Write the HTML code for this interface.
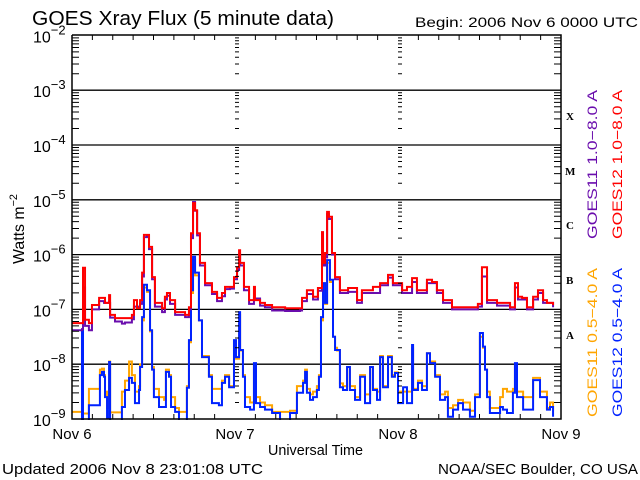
<!DOCTYPE html>
<html><head><meta charset="utf-8"><style>
html,body{margin:0;padding:0;background:#fff;}
svg{display:block;font-family:"Liberation Sans",sans-serif;}
</style></head><body>
<svg id="chart" width="640" height="480" viewBox="0 0 640 480" xmlns="http://www.w3.org/2000/svg">
<rect width="640" height="480" fill="#fff"/>
<text x="32" y="25" font-size="20" textLength="302" lengthAdjust="spacingAndGlyphs">GOES Xray Flux (5 minute data)</text>
<text x="415" y="27" font-size="14" textLength="223" lengthAdjust="spacingAndGlyphs">Begin:  2006 Nov 6 0000 UTC</text>
<g id="yticks"></g>
<g id="grid"></g>
<g id="series" clip-path="url(#clip)"></g>
<defs><clipPath id="clip"><rect x="72" y="35" width="489" height="385"/></clipPath></defs>
<g id="frame"></g>
<g font-family="Liberation Serif, serif" font-weight="bold" font-size="11">
<text x="566" y="120">X</text>
<text x="565" y="175">M</text>
<text x="566" y="229">C</text>
<text x="566" y="284">B</text>
<text x="566" y="339">A</text>
</g>
<text transform="translate(597,239) rotate(-90)" font-size="14" fill="#6a0dad" textLength="149" lengthAdjust="spacingAndGlyphs">GOES11 1.0−8.0 A</text>
<text transform="translate(622,239) rotate(-90)" font-size="14" fill="#ff0000" textLength="149" lengthAdjust="spacingAndGlyphs">GOES12 1.0−8.0 A</text>
<text transform="translate(597,417) rotate(-90)" font-size="14" fill="#ffa500" textLength="149" lengthAdjust="spacingAndGlyphs">GOES11 0.5−4.0 A</text>
<text transform="translate(622,417) rotate(-90)" font-size="14" fill="#0022ff" textLength="149" lengthAdjust="spacingAndGlyphs">GOES12 0.5−4.0 A</text>
<text transform="translate(24,264) rotate(-90)" font-size="16" textLength="70" lengthAdjust="spacingAndGlyphs">Watts m<tspan dy="-7" font-size="11">−2</tspan></text>
<g id="xlabels" font-size="15"></g>
<text x="268" y="455" font-size="15" textLength="95" lengthAdjust="spacingAndGlyphs">Universal Time</text>
<text x="2" y="474" font-size="15" textLength="261" lengthAdjust="spacingAndGlyphs">Updated 2006 Nov  8 23:01:08 UTC</text>
<text x="438" y="474" font-size="15" textLength="200" lengthAdjust="spacingAndGlyphs">NOAA/SEC Boulder, CO USA</text>
</svg>
<script>
// Time arrays are in units of 3-hour intervals since 2006 Nov 6 00:00 UTC (24 units = 3 days)
const yDecades = [-2,-3,-4,-5,-6,-7,-8,-9];
const yTickLabels = ["−2","−3","−4","−5","−6","−7","−8","−9"];
const xDayLabels = ["Nov 6","Nov 7","Nov 8","Nov 9"];
const xDayUnits = [0,8,16,24];

const g12LongT = [0,0.34,0.49,0.54,0.64,0.83,0.98,1.33,1.57,1.62,1.82,1.87,2.11,2.45,2.60,2.94,3.04,3.19,3.34,3.44,3.53,3.68,3.78,3.93,4.07,4.42,4.56,4.66,4.81,5.06,5.55,5.74,5.84,5.94,6.04,6.14,6.28,6.53,6.87,7.12,7.36,7.51,7.75,7.95,8.10,8.20,8.25,8.44,8.69,8.93,8.98,9.23,9.47,9.82,10.46,11.19,11.29,11.53,11.83,12.07,12.27,12.32,12.42,12.52,12.61,12.76,12.91,13.15,13.55,13.99,14.23,14.63,14.77,15.12,15.51,15.75,16.20,16.44,16.69,16.93,17.42,17.67,17.91,18.21,18.65,19.53,19.92,20.12,20.37,20.86,21.50,21.74,21.89,22.09,22.33,22.63,22.87,23.12,23.31,23.61];
const g12LongLog = [-7.25,-7.25,-7.25,-6.24,-7.19,-7.25,-6.92,-6.79,-6.79,-6.88,-6.74,-7.10,-7.16,-7.16,-7.16,-7.10,-6.83,-6.98,-6.83,-6.33,-5.64,-5.64,-5.86,-6.41,-6.88,-6.98,-6.77,-6.70,-6.83,-7.05,-7.10,-6.96,-5.61,-5.06,-5.19,-5.61,-6.15,-6.52,-6.68,-6.79,-6.70,-6.59,-6.59,-6.41,-6.23,-5.92,-6.15,-6.59,-6.83,-6.59,-6.83,-6.88,-6.92,-6.96,-6.98,-6.98,-6.79,-6.65,-6.77,-6.61,-5.59,-6.15,-5.97,-5.22,-5.31,-5.97,-6.41,-6.65,-6.61,-6.83,-6.65,-6.65,-6.59,-6.52,-6.37,-6.52,-6.65,-6.59,-6.43,-6.65,-6.46,-6.50,-6.65,-6.83,-6.96,-6.96,-6.90,-6.23,-6.83,-6.88,-6.96,-6.52,-6.77,-6.79,-6.96,-6.77,-6.65,-6.83,-6.88,-6.92];

const g11LongT = [0,0.49,0.54,0.64,0.83,0.98,1.33,1.57,1.87,2.11,2.45,2.60,2.94,3.04,3.34,3.44,3.53,3.68,3.78,3.93,4.07,4.42,4.56,4.66,4.81,5.06,5.55,5.74,5.84,5.94,6.04,6.14,6.28,6.53,6.87,7.12,7.36,7.51,7.75,7.95,8.10,8.20,8.25,8.44,8.69,8.93,9.23,9.47,9.82,10.46,11.19,11.29,11.53,11.83,12.07,12.27,12.32,12.42,12.52,12.61,12.76,12.91,13.15,13.55,13.99,14.23,14.63,15.12,15.51,15.75,16.20,16.69,16.93,17.42,17.91,18.21,18.65,19.53,19.92,20.12,20.37,20.86,21.50,21.74,21.89,22.33,22.63,22.87,23.12,23.61];
const g11LongLog = [-7.38,-7.36,-6.6,-7.3,-7.38,-7.0,-6.85,-6.88,-7.15,-7.22,-7.26,-7.24,-7.18,-6.95,-6.90,-6.4,-5.68,-5.66,-5.9,-6.45,-6.95,-7.05,-6.82,-6.75,-6.9,-7.1,-7.14,-7.0,-5.7,-5.04,-5.2,-5.65,-6.2,-6.56,-6.72,-6.85,-6.76,-6.63,-6.62,-6.45,-6.28,-6.0,-6.2,-6.65,-6.9,-6.8,-6.93,-6.96,-7.02,-7.03,-7.02,-6.85,-6.72,-6.82,-6.66,-5.7,-6.2,-6.05,-5.26,-5.35,-6.0,-6.45,-6.7,-6.68,-6.88,-6.7,-6.7,-6.56,-6.42,-6.56,-6.7,-6.5,-6.7,-6.52,-6.7,-6.88,-7.0,-7.0,-6.95,-6.4,-6.88,-6.93,-7.0,-6.6,-6.82,-7.0,-6.82,-6.7,-6.88,-6.96];

const shortT = [0,0.44,0.49,0.54,0.83,1.33,1.37,1.47,1.57,1.62,1.72,1.82,1.87,2.40,2.45,2.60,2.80,2.94,3.09,3.29,3.34,3.44,3.53,3.68,3.83,3.93,4.02,4.27,4.52,4.61,4.76,4.86,5.06,5.25,5.50,5.64,5.74,5.84,5.94,6.04,6.23,6.38,6.72,6.87,7.21,7.36,7.51,7.71,7.90,7.95,8.05,8.20,8.25,8.39,8.49,8.74,8.93,9.03,9.23,9.47,9.82,10.21,10.65,10.70,11.04,11.34,11.44,11.53,11.68,11.83,12.02,12.12,12.22,12.32,12.42,12.52,12.66,12.81,12.91,13.01,13.15,13.30,13.50,13.64,13.89,14.14,14.38,14.63,14.77,14.97,15.12,15.26,15.51,15.70,15.85,16.00,16.25,16.44,16.69,16.74,16.98,17.18,17.42,17.57,17.82,18.06,18.31,18.45,18.70,18.95,19.19,19.53,19.78,20.02,20.17,20.27,20.37,20.51,20.90,21.01,21.15,21.35,21.64,21.74,21.84,22.14,22.63,22.82,22.97,23.31,23.46,23.61];
const g12ShortLog = [-9.1,-9.1,-7.38,-9.1,-8.75,-8.75,-8.20,-8.14,-8.23,-8.60,-8.98,-7.96,-9.1,-9.1,-8.78,-8.47,-8.25,-8.34,-8.71,-8.47,-8.05,-7.14,-6.55,-6.65,-7.38,-8.10,-8.60,-8.78,-8.78,-8.14,-8.23,-8.78,-8.87,-9.1,-9.1,-8.43,-7.56,-6.65,-6.04,-6.33,-7.2,-7.87,-8.23,-8.71,-8.75,-8.34,-8.23,-8.42,-8.42,-7.56,-7.87,-7.05,-7.74,-8.23,-8.78,-8.83,-7.98,-8.71,-8.78,-8.83,-8.89,-9.1,-9.1,-8.89,-8.52,-8.34,-8.14,-8.52,-8.65,-8.60,-8.47,-8.23,-7.14,-6.52,-6.88,-6.10,-6.46,-7.50,-7.74,-7.74,-8.42,-8.47,-8.05,-8.47,-8.65,-8.23,-8.71,-8.05,-8.47,-8.65,-7.87,-8.42,-7.87,-8.23,-8.16,-8.71,-8.42,-8.71,-7.65,-8.47,-8.34,-8.47,-7.80,-7.98,-8.23,-8.65,-8.60,-8.96,-8.83,-8.71,-8.83,-8.96,-8.6,-7.43,-7.68,-8.10,-8.60,-8.89,-8.89,-8.78,-8.83,-8.89,-8.52,-7.98,-8.60,-8.83,-8.29,-8.29,-8.60,-8.83,-8.78,-8.96];
const g11ShortLog = [-8.87,-8.87,-7.5,-8.9,-8.45,-8.45,-8.1,-8.08,-8.2,-8.5,-8.8,-7.95,-8.88,-8.88,-8.5,-8.3,-7.95,-8.2,-8.5,-8.4,-8.0,-7.2,-6.6,-6.68,-7.4,-8.05,-8.45,-8.6,-8.65,-8.1,-8.2,-8.6,-8.8,-8.87,-8.87,-8.4,-7.6,-6.7,-6.1,-6.38,-7.2,-7.85,-8.2,-8.45,-8.45,-8.3,-8.2,-8.4,-8.4,-7.6,-7.9,-7.1,-7.75,-8.2,-8.6,-8.7,-8.0,-8.6,-8.7,-8.75,-8.87,-8.87,-8.87,-8.85,-8.4,-8.3,-8.1,-8.45,-8.55,-8.5,-8.4,-8.2,-7.2,-6.55,-6.9,-6.15,-6.5,-7.5,-7.7,-7.75,-8.35,-8.4,-8.05,-8.4,-8.6,-8.2,-8.55,-8.05,-8.45,-8.5,-7.85,-8.4,-7.85,-8.2,-8.15,-8.5,-8.5,-8.5,-7.7,-8.45,-8.3,-8.4,-7.8,-7.95,-8.2,-8.55,-8.5,-8.8,-8.75,-8.65,-8.7,-8.85,-8.55,-7.5,-7.7,-8.1,-8.5,-8.8,-8.8,-8.6,-8.45,-8.5,-8.45,-8.0,-8.5,-8.6,-8.25,-8.25,-8.5,-8.8,-8.7,-8.85];

const NS = "http://www.w3.org/2000/svg";
const X0 = 72, X1 = 561, Y0 = 35.4, DEC = 54.8;
function xScale(t){ return X0 + (t/24)*(X1-X0); }
function yScale(lg){ return Y0 + (-2 - lg)*DEC; }
function mk(tag, attrs, parent){ const e=document.createElementNS(NS,tag); for(const k in attrs) e.setAttribute(k,attrs[k]); parent.appendChild(e); return e; }

const grid = document.getElementById('grid');
const yt = document.getElementById('yticks');
const frame = document.getElementById('frame');
const ser = document.getElementById('series');
const xl = document.getElementById('xlabels');

yDecades.forEach((d,i)=>{
  const y = yScale(d);
  if (i>0 && i<yDecades.length-1) {
    const ln = mk('line',{x1:X0,x2:X1,y1:y,y2:y,stroke:'#000','stroke-width':1.3},grid);
    
    
  }
  const t = mk('text',{x:33,y:y+7,'font-size':16},yt);
  
  
  t.textContent='10';
  const s = mk('tspan',{dy:-8,'font-size':13},t);
  s.textContent = yTickLabels[i];
});
let tickPath = '';
for (let d=-9; d<-2; d++){
  for (let m=2;m<=9;m++){
    const y = yScale(d+Math.log10(m));
    tickPath += `M${X0} ${y}h7M${X1} ${y}h-7`;
    [8,16].forEach(u=>{ const x=xScale(u); tickPath += `M${x} ${y}h4`; });
  }
}
for (let u=1; u<24; u++){
  const x = xScale(u);
  if (u%8!==0) tickPath += `M${x} 419v-5M${x} 35v5`;
}
const tp = mk('path',{d:tickPath,stroke:'#000','stroke-width':1,fill:'none'},frame);


const fr = mk('path',{d:`M${X0} 35V419H${X1}V35H${X0}`,stroke:'#000','stroke-width':1.5,fill:'none'},frame);



xDayUnits.forEach((u,i)=>{
  const t = mk('text',{x:xScale(u),y:439,'text-anchor':'middle','font-size':15},xl);
  
  
  t.textContent = xDayLabels[i];
});

function stepLine(ts, vals, color, name){
  let d='';
  ts.forEach((t,i)=>{
    const x=xScale(t), y=yScale(Math.max(vals[i],-9.2));
    if(i===0) d+=`M${x} ${y}`; else d+=`H${x}V${y}`;
  });
  const p = mk('path',{d:d,stroke:color,'stroke-width':2,fill:'none'},ser);
  
  
}
stepLine(shortT, g11ShortLog, '#ffa500', 'goes11-short-line');
stepLine(shortT, g12ShortLog, '#0022ff', 'goes12-short-line');
stepLine(g11LongT, g11LongLog, '#6a0dad', 'goes11-long-line');
stepLine(g12LongT, g12LongLog, '#ff0000', 'goes12-long-line');
</script>
</body></html>
